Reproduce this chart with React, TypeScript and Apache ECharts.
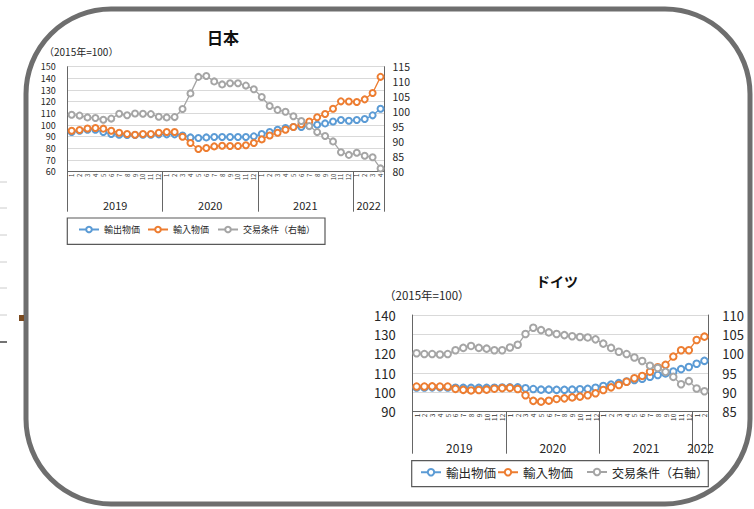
import React, { useEffect, useRef } from "react";
import * as echarts from "echarts";

// ---------- data ----------
const jpYears = ["2019", "2020", "2021", "2022"];
const jpMonthCounts = [12, 12, 12, 4];
const deYears = ["2019", "2020", "2021", "2022"];
const deMonthCounts = [12, 12, 12, 2];

const seriesNames = ["輸出物価", "輸入物価", "交易条件（右軸）"];

// 日本 (2015年=100)
const jpExport = [
  94.0, 95.1, 96.0, 96.0, 94.0, 92.3, 91.7, 91.5, 91.5, 91.7,
  91.7, 92.0, 92.0, 92.0, 91.1, 89.4, 88.9, 89.4, 89.7, 89.8,
  89.7, 89.7, 89.7, 90.3, 92.3, 94.0, 96.0, 97.4, 98.3, 98.3,
  99.4, 100.3, 101.4, 103.1, 104.3, 103.7, 104.3, 105.1, 108.3, 114.0,
];
const jpImport = [
  95.1, 95.7, 97.1, 97.4, 96.9, 95.1, 93.4, 92.3, 91.7, 92.3,
  92.3, 93.4, 94.0, 94.0, 90.0, 84.6, 79.4, 80.3, 81.7, 82.2,
  82.0, 82.0, 82.6, 84.6, 87.7, 91.1, 93.4, 96.0, 98.3, 100.6,
  103.1, 106.6, 109.4, 114.0, 120.3, 120.2, 119.8, 122.0, 127.5, 141.3,
];
const jpTerms = [
  99.0, 98.7, 98.1, 97.9, 97.3, 97.7, 99.3, 98.8, 99.4, 99.3,
  99.2, 98.3, 98.1, 98.2, 100.9, 106.1, 111.6, 111.9, 110.1, 109.1,
  109.5, 109.5, 108.7, 107.5, 104.9, 101.9, 100.6, 100.0, 98.5, 96.9,
  95.2, 93.2, 91.9, 90.1, 86.5, 85.6, 86.3, 85.3, 84.8, 81.1,
];

// ドイツ (2015年=100)
const deExport = [
  102.5, 102.5, 102.6, 102.6, 102.5, 102.4, 102.3, 102.3, 102.3, 102.3,
  102.4, 102.5, 102.6, 102.6, 102.1, 101.7, 101.4, 101.4, 101.3, 101.3,
  101.4, 101.6, 101.8, 102.4, 103.3, 104.0, 104.8, 105.6, 106.4, 107.0,
  108.1, 109.0, 109.8, 110.8, 112.0, 113.1, 114.8, 116.3,
];
const deImport = [
  103.0, 103.0, 103.1, 103.0, 103.0, 101.8, 101.3, 101.0, 101.2, 101.4,
  101.9, 102.2, 102.3, 101.7, 98.5, 95.6, 95.2, 95.7, 96.6, 96.9,
  97.4, 97.8, 98.5, 99.5, 101.2, 102.6, 103.8, 105.5, 107.3, 108.5,
  110.7, 113.0, 114.2, 118.5, 121.8, 121.8, 127.1, 128.8,
];
const deTerms = [
  100.1, 99.9, 99.9, 99.8, 99.9, 100.9, 101.5, 102.0, 101.5, 101.3,
  100.9, 100.9, 101.6, 102.3, 105.1, 106.7, 106.1, 105.5, 105.1, 104.8,
  104.5, 104.3, 104.2, 103.7, 102.6, 101.5, 100.5, 99.9, 99.0, 98.1,
  96.9, 96.3, 95.3, 94.0, 92.1, 92.9, 91.0, 90.3,
];

// ---------- helpers ----------
function buildMonths(years: string[], counts: number[]) {
  const out: string[] = [];
  years.forEach((y, i) => {
    for (let m = 1; m <= counts[i]; m++) out.push(y + "-" + m);
  });
  return out;
}
function bounds(counts: number[]) {
  const b = [0];
  let acc = 0;
  counts.forEach((c) => {
    acc += c;
    b.push(acc);
  });
  return b;
}
function centers(counts: number[]) {
  const c: number[] = [];
  let acc = 0;
  counts.forEach((n) => {
    c.push(acc + n / 2);
    acc += n;
  });
  return c;
}

const jpMonths = buildMonths(jpYears, jpMonthCounts);
const deMonths = buildMonths(deYears, deMonthCounts);
const jpBounds = bounds(jpMonthCounts);
const deBounds = bounds(deMonthCounts);
const jpCenters = centers(jpMonthCounts);
const deCenters = centers(deMonthCounts);

const FONT = "'Noto Sans CJK JP', 'Noto Sans', sans-serif";
const BLUE = "#5B9BD5";
const ORANGE = "#ED7D31";
const GRAY = "#A5A5A5";
const AXIS = "#666666";
const GRID = "#D9D9D9";
const TEXT = "#262626";

function lineSeries(name: string, data: number[], color: string, xi: number, yi: number, size: number) {
  return {
    name,
    type: "line",
    xAxisIndex: xi,
    yAxisIndex: yi,
    data,
    symbol: "emptyCircle",
    symbolSize: size,
    lineStyle: { width: 1.3, color },
    itemStyle: { color, borderWidth: 1 },
    emphasis: { disabled: true },
  };
}

function monthAxis(grid: number, data: string[], fontSize: number) {
  return {
    type: "category",
    gridIndex: grid,
    data,
    boundaryGap: true,
    axisLine: { show: true, lineStyle: { color: AXIS, width: 1 } },
    axisTick: { show: false },
    axisLabel: {
      interval: 0,
      rotate: 90,
      margin: 2,
      fontSize,
      color: "#333333",
      fontFamily: FONT,
      formatter: (v: string) => v.split("-")[1],
    },
    splitLine: { show: false },
  };
}

function yearAxis(grid: number, total: number, b: number[], c: number[], years: string[], tickLen: number, margin: number, fontSize: number) {
  return {
    type: "value",
    gridIndex: grid,
    position: "bottom",
    min: 0,
    max: total,
    axisLine: { show: false },
    splitLine: { show: false },
    axisTick: { show: true, customValues: b, length: tickLen, lineStyle: { color: AXIS, width: 1 } },
    axisLabel: {
      customValues: c,
      margin,
      fontSize,
      color: TEXT,
      fontFamily: FONT,
      formatter: (v: number) => {
        const i = c.indexOf(v);
        return i >= 0 ? years[i] : "";
      },
    },
  };
}

function valueAxis(grid: number, pos: string, min: number, max: number, interval: number, split: boolean, margin: number, fontSize: number) {
  return {
    type: "value",
    gridIndex: grid,
    position: pos,
    min,
    max,
    interval,
    axisLine: { show: true, lineStyle: { color: AXIS, width: 1 } },
    axisTick: { show: false },
    splitLine: { show: split, lineStyle: { color: GRID, width: 1 } },
    axisLabel: { margin, fontSize, lineHeight: fontSize, color: TEXT, fontFamily: FONT },
  };
}

function legendItem(name: string, left: number, top: number, fontSize: number, h: number) {
  return {
    data: [name],
    left,
    top,
    padding: 0,
    itemWidth: 20,
    itemHeight: h,
    selectedMode: false,
    textStyle: { fontSize, color: TEXT, fontFamily: FONT },
  };
}

const option = {
  animation: false,
  backgroundColor: "#ffffff",
  grid: [
    { left: 67.7, top: 66.7, width: 316.8, height: 105 },
    { left: 412.7, top: 315, width: 295.6, height: 96.7 },
  ],
  xAxis: [
    monthAxis(0, jpMonths, 6),
    yearAxis(0, jpMonths.length, jpBounds, jpCenters, jpYears, 40, 28, 11),
    monthAxis(1, deMonths, 6.5),
    yearAxis(1, deMonths.length, deBounds, deCenters, deYears, 42, 30, 12),
  ],
  yAxis: [
    valueAxis(0, "left", 60, 150, 10, true, 12, 9),
    valueAxis(0, "right", 80, 115, 5, false, 8, 10.5),
    valueAxis(1, "left", 90, 140, 10, true, 17, 13),
    valueAxis(1, "right", 85, 110, 5, false, 14, 13),
  ],
  legend: [
    legendItem(seriesNames[0], 78, 225, 9, 7),
    legendItem(seriesNames[1], 147, 225, 9, 7),
    legendItem(seriesNames[2], 217, 225, 9, 7),
    legendItem(seriesNames[0], 420, 466, 12.5, 8),
    legendItem(seriesNames[1], 497, 466, 12.5, 8),
    legendItem(seriesNames[2], 586, 466, 12, 8),
  ],
  series: [
    lineSeries(seriesNames[0], jpExport, BLUE, 0, 0, 6),
    lineSeries(seriesNames[1], jpImport, ORANGE, 0, 0, 6),
    lineSeries(seriesNames[2], jpTerms, GRAY, 0, 1, 6),
    lineSeries(seriesNames[0], deExport, BLUE, 2, 2, 6.5),
    lineSeries(seriesNames[1], deImport, ORANGE, 2, 2, 6.5),
    lineSeries(seriesNames[2], deTerms, GRAY, 2, 3, 6.5),
  ],
  graphic: [
    {
      type: "rect",
      shape: { x: 26, y: 9, width: 724, height: 495, r: 85 },
      style: { fill: "none", stroke: "#6e6e6e", lineWidth: 5 },
      silent: true,
    },
    { type: "rect", shape: { x: 67.3, y: 218, width: 257.7, height: 26.3 }, style: { fill: "none", stroke: "#595959", lineWidth: 1.2 }, silent: true },
    { type: "rect", shape: { x: 411.7, y: 460.7, width: 296.6, height: 26 }, style: { fill: "none", stroke: "#595959", lineWidth: 1.2 }, silent: true },
    { type: "text", left: 207, top: 29, style: { text: "日本", font: "bold 16px " + FONT, fill: "#111" } },
    { type: "text", left: 536, top: 274, style: { text: "ドイツ", font: "bold 14px " + FONT, fill: "#111" } },
    { type: "text", left: 44, top: 46, style: { text: "（2015年=100）", font: "10px " + FONT, fill: TEXT } },
    { type: "text", left: 384, top: 289, style: { text: "（2015年=100）", font: "11.5px " + FONT, fill: TEXT } },
    // edge remnants of the neighbouring slide
    { type: "line", shape: { x1: 0, y1: 182, x2: 7, y2: 182 }, style: { stroke: "#cccccc", lineWidth: 1 } },
    { type: "line", shape: { x1: 0, y1: 208, x2: 7, y2: 208 }, style: { stroke: "#cccccc", lineWidth: 1 } },
    { type: "line", shape: { x1: 0, y1: 235, x2: 7, y2: 235 }, style: { stroke: "#cccccc", lineWidth: 1 } },
    { type: "line", shape: { x1: 0, y1: 262, x2: 7, y2: 262 }, style: { stroke: "#cccccc", lineWidth: 1 } },
    { type: "line", shape: { x1: 0, y1: 288, x2: 7, y2: 288 }, style: { stroke: "#cccccc", lineWidth: 1 } },
    { type: "line", shape: { x1: 0, y1: 315, x2: 7, y2: 315 }, style: { stroke: "#cccccc", lineWidth: 1 } },
    { type: "line", shape: { x1: 0, y1: 342, x2: 7, y2: 342 }, style: { stroke: "#444444", lineWidth: 1.5 } },
    { type: "rect", shape: { x: 19, y: 315, width: 5, height: 6 }, style: { fill: "#7a4a1f" } },
  ],
};

export default function App() {
  const ref = useRef<HTMLDivElement>(null);
  useEffect(() => {
    if (!ref.current) return;
    const chart = echarts.init(ref.current, null, { renderer: "svg" });
    chart.setOption(option as any);
    return () => chart.dispose();
  }, []);
  return (
    <div
      ref={ref}
      style={{ position: "fixed", left: 0, top: 0, width: 754, height: 509, background: "#fff" }}
    />
  );
}
